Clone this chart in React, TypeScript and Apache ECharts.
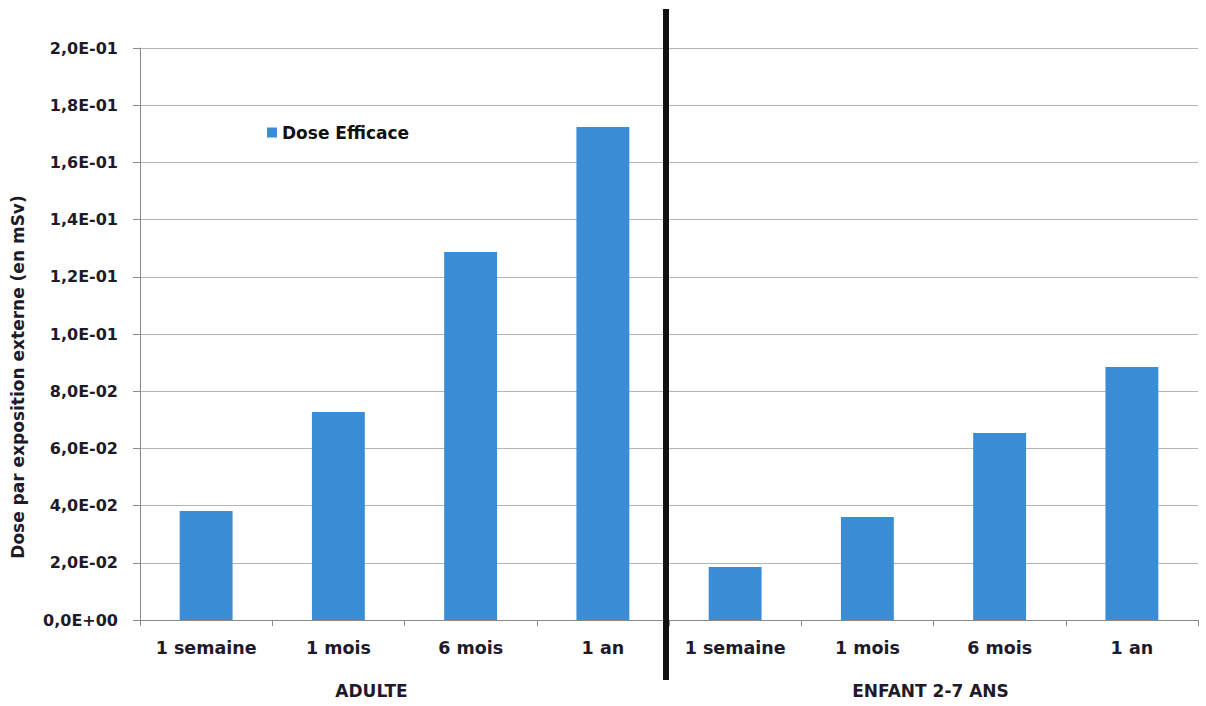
import React, { useEffect, useRef } from "react";
import * as echarts from "echarts";

const periods = ["1 semaine", "1 mois", "6 mois", "1 an", "1 semaine", "1 mois", "6 mois", "1 an"];
const groups = ["ADULTE", "ENFANT 2-7 ANS"];
const doseEfficace = [0.0381, 0.0727, 0.1287, 0.1724, 0.0185, 0.036, 0.0654, 0.0885];
const seriesName = "Dose Efficace";
const yAxisName = "Dose par exposition externe (en mSv)";

const fmt = (v: number) => {
  const s = v.toExponential(1);
  const [m, e] = s.split("e");
  const sign = e.startsWith("-") ? "-" : "+";
  const digits = e.replace(/[+-]/, "").padStart(2, "0");
  return m.replace(".", ",") + "E" + sign + digits;
};

const TXT = "#1e1a2a";
const FONT = "DejaVu Sans";

export default function App() {
  const ref = useRef<HTMLDivElement>(null);
  useEffect(() => {
    const chart = echarts.init(ref.current!, null, { renderer: "svg" });
    chart.setOption({
      animation: false,
      backgroundColor: "#ffffff",
      textStyle: { fontFamily: FONT },
      grid: { left: 140, right: 8, top: 48, bottom: 86 },
      legend: {
        data: [seriesName],
        left: 262,
        top: 119,
        icon: "rect",
        itemWidth: 10,
        itemHeight: 10,
        itemGap: 6,
        textStyle: { fontFamily: FONT, fontSize: 17, fontWeight: "bold", color: "#111" },
      },
      xAxis: [
        {
          type: "category",
          data: periods,
          position: "bottom",
          axisLine: { lineStyle: { color: "#8a8a8a", width: 1 } },
          axisTick: { show: true, length: 6, lineStyle: { color: "#8a8a8a" } },
          axisLabel: { color: TXT, fontSize: 17.5, fontWeight: "bold", margin: 19, fontFamily: FONT },
        },
        {
          type: "category",
          data: [
            { value: groups[0], textStyle: { padding: [0, 66, 0, 0] } },
            { value: groups[1], textStyle: { padding: [0, 6, 0, 0] } },
          ],
          position: "bottom",
          offset: 48,
          axisLine: { show: false },
          axisTick: { show: false },
          axisLabel: { color: TXT, fontSize: 17, fontWeight: "bold", margin: 14, fontFamily: FONT },
        },
      ],
      yAxis: {
        type: "value",
        min: 0,
        max: 0.2,
        interval: 0.02,
        name: yAxisName,
        nameLocation: "middle",
        nameGap: 114,
        nameRotate: 90,
        nameTextStyle: {
          color: TXT,
          fontSize: 17,
          fontWeight: "bold",
          fontFamily: FONT,
          padding: [0, 86, 0, 0],
        },
        axisLine: { show: true, lineStyle: { color: "#8a8a8a" } },
        axisTick: { show: true, length: 7, lineStyle: { color: "#8a8a8a" } },
        axisLabel: { color: TXT, fontSize: 16, fontWeight: "bold", margin: 22, formatter: fmt, fontFamily: FONT },
        splitLine: { lineStyle: { color: "#b4b4b4", width: 1 } },
      },
      series: [
        {
          name: seriesName,
          type: "bar",
          data: doseEfficace,
          barWidth: "40%",
          itemStyle: { color: "#3a8dd4" },
          xAxisIndex: 0,
        },
      ],
      graphic: [
        {
          type: "rect",
          shape: { x: 663, y: 9, width: 6, height: 671 },
          style: { fill: "#111111" },
          z: 100,
        },
      ],
    });
    return () => chart.dispose();
  }, []);
  return <div ref={ref} style={{ position: "absolute", left: 0, top: 0, width: 1206, height: 706 }} />;
}
